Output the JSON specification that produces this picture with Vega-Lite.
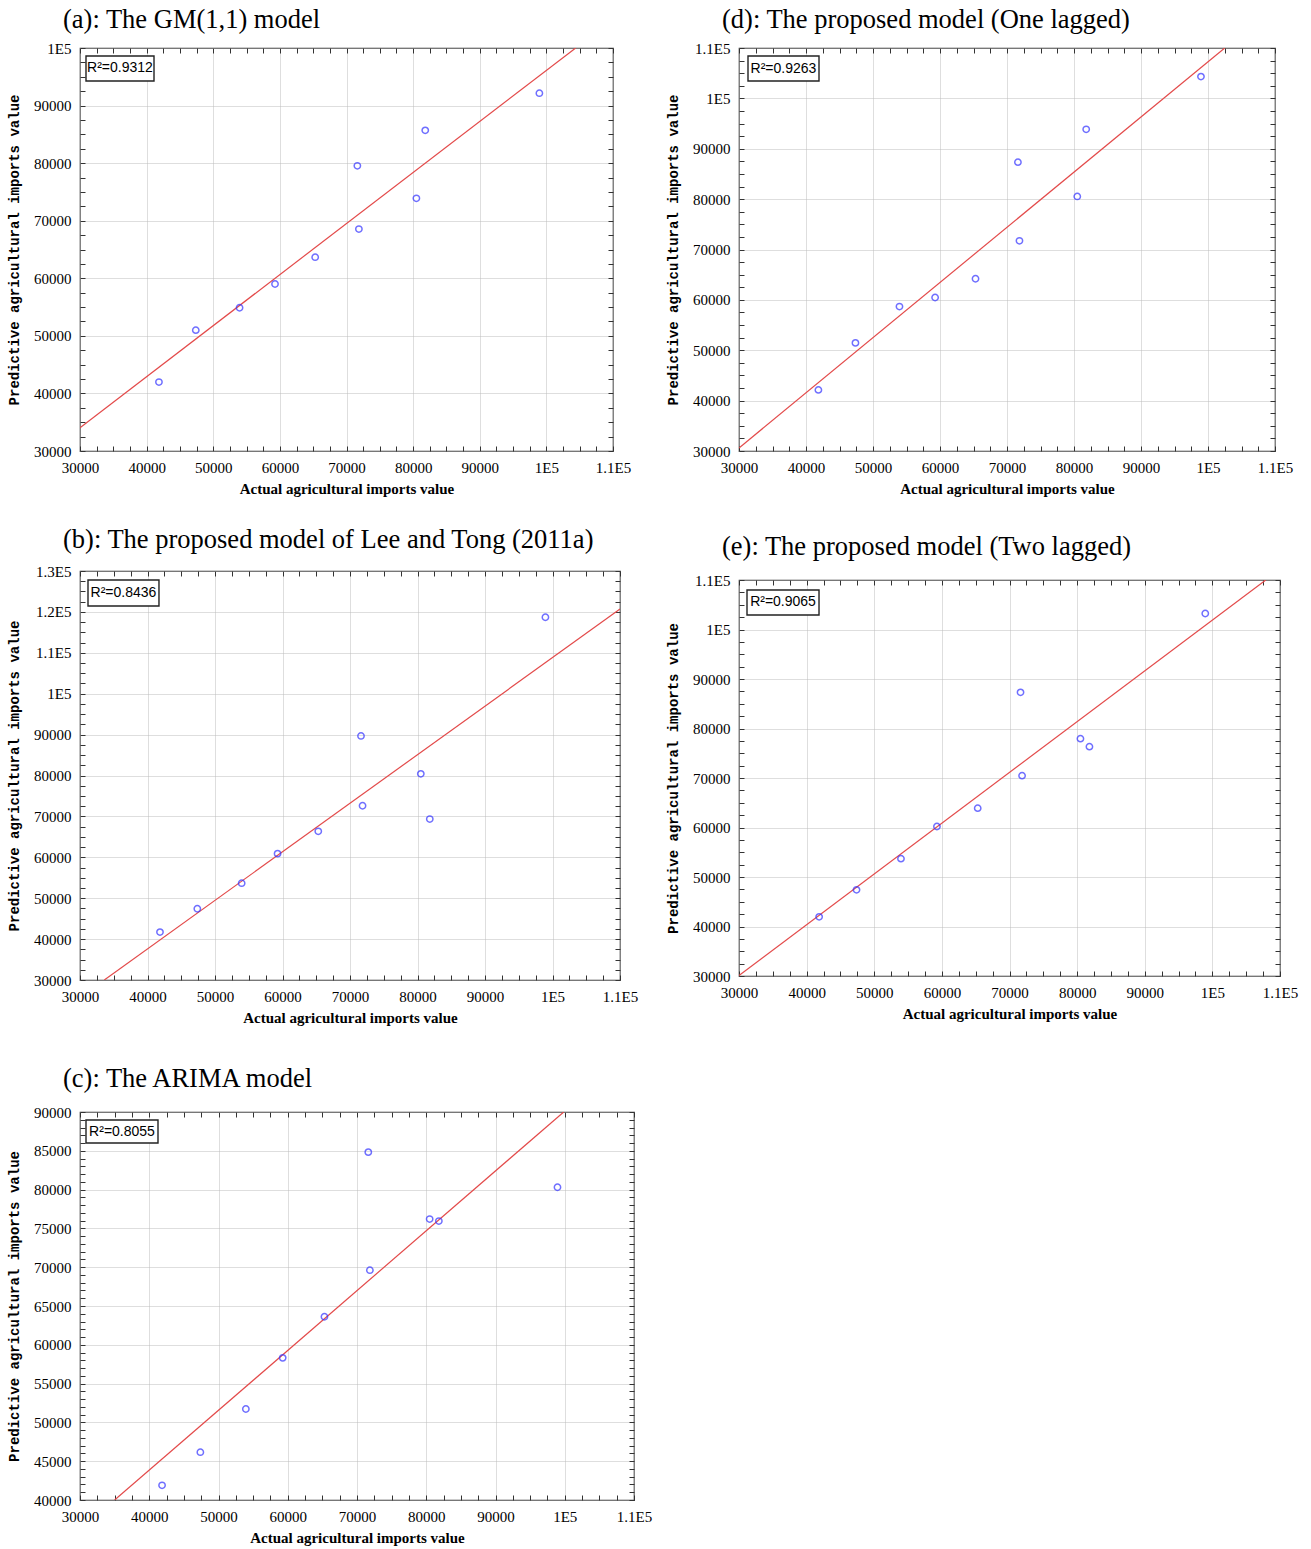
{
  "$schema": "https://vega.github.io/schema/vega-lite/v6.json",
  "background": "white",
  "padding": {"left": 6, "top": 5, "right": 5, "bottom": 5},
  "datasets": {
    "points": [
      {"panel": "a", "actual": 41850, "predicted": 41977},
      {"panel": "a", "actual": 47380, "predicted": 50988},
      {"panel": "a", "actual": 53950, "predicted": 54884},
      {"panel": "a", "actual": 59270, "predicted": 59012},
      {"panel": "a", "actual": 65300, "predicted": 63663},
      {"panel": "a", "actual": 71630, "predicted": 79535},
      {"panel": "a", "actual": 71860, "predicted": 68547},
      {"panel": "a", "actual": 80490, "predicted": 73895},
      {"panel": "a", "actual": 81820, "predicted": 85698},
      {"panel": "a", "actual": 98950, "predicted": 92151},
      {"panel": "d", "actual": 41850, "predicted": 42128},
      {"panel": "d", "actual": 47380, "predicted": 51463},
      {"panel": "d", "actual": 53950, "predicted": 58670},
      {"panel": "d", "actual": 59270, "predicted": 60465},
      {"panel": "d", "actual": 65300, "predicted": 64189},
      {"panel": "d", "actual": 71630, "predicted": 87340},
      {"panel": "d", "actual": 71860, "predicted": 71729},
      {"panel": "d", "actual": 80490, "predicted": 80532},
      {"panel": "d", "actual": 81820, "predicted": 93856},
      {"panel": "d", "actual": 98950, "predicted": 104322},
      {"panel": "b", "actual": 41850, "predicted": 41711},
      {"panel": "b", "actual": 47380, "predicted": 47416},
      {"panel": "b", "actual": 53950, "predicted": 53667},
      {"panel": "b", "actual": 59270, "predicted": 60896},
      {"panel": "b", "actual": 65300, "predicted": 66357},
      {"panel": "b", "actual": 71630, "predicted": 89674},
      {"panel": "b", "actual": 71860, "predicted": 72608},
      {"panel": "b", "actual": 80490, "predicted": 80407},
      {"panel": "b", "actual": 81820, "predicted": 69348},
      {"panel": "b", "actual": 98950, "predicted": 118696},
      {"panel": "e", "actual": 41850, "predicted": 41953},
      {"panel": "e", "actual": 47380, "predicted": 47407},
      {"panel": "e", "actual": 53950, "predicted": 53704},
      {"panel": "e", "actual": 59270, "predicted": 60202},
      {"panel": "e", "actual": 65300, "predicted": 63906},
      {"panel": "e", "actual": 71630, "predicted": 87306},
      {"panel": "e", "actual": 71860, "predicted": 70471},
      {"panel": "e", "actual": 80490, "predicted": 77946},
      {"panel": "e", "actual": 81820, "predicted": 76330},
      {"panel": "e", "actual": 98950, "predicted": 103232},
      {"panel": "c", "actual": 41850, "predicted": 41895},
      {"panel": "c", "actual": 47380, "predicted": 46163},
      {"panel": "c", "actual": 53950, "predicted": 51723},
      {"panel": "c", "actual": 59270, "predicted": 58316},
      {"panel": "c", "actual": 65300, "predicted": 63618},
      {"panel": "c", "actual": 71630, "predicted": 84828},
      {"panel": "c", "actual": 71860, "predicted": 69612},
      {"panel": "c", "actual": 80490, "predicted": 76206},
      {"panel": "c", "actual": 81820, "predicted": 75947},
      {"panel": "c", "actual": 98950, "predicted": 80301}
    ],
    "fit": [
      {"panel": "a", "actual": 30000, "predicted": 34050},
      {"panel": "a", "actual": 104400, "predicted": 100000},
      {"panel": "d", "actual": 30000, "predicted": 30600},
      {"panel": "d", "actual": 102500, "predicted": 110000},
      {"panel": "b", "actual": 33600, "predicted": 30000},
      {"panel": "b", "actual": 110000, "predicted": 120700},
      {"panel": "e", "actual": 30000, "predicted": 30100},
      {"panel": "e", "actual": 107900, "predicted": 110000},
      {"panel": "c", "actual": 35000, "predicted": 40000},
      {"panel": "c", "actual": 99850, "predicted": 90000}
    ],
    "r2": [
      {"panel": "a", "label": "R²=0.9312"},
      {"panel": "d", "label": "R²=0.9263"},
      {"panel": "b", "label": "R²=0.8436"},
      {"panel": "e", "label": "R²=0.9065"},
      {"panel": "c", "label": "R²=0.8055"}
    ]
  },
  "spacing": 12,
  "hconcat": [
    {
      "spacing": 38,
      "vconcat": [
        {
          "spacing": 28,
          "vconcat": [
            {
              "title": {"text": "(a): The GM(1,1) model", "offset": 8},
              "width": 533, "height": 403,
              "resolve": {"axis": {"x": "independent", "y": "independent"}},
              "layer": [
                {
                  "data": {"name": "fit"}, "transform": [{"filter": "datum.panel === 'a'"}],
                  "mark": {"type": "line", "color": "#e34a4a", "strokeWidth": 1.2, "clip": true},
                  "encoding": {
                    "x": {"field": "actual", "type": "quantitative", "scale": {"domain": [30000, 110000], "nice": false, "zero": false},
                      "axis": {"orient": "bottom", "values": [30000,32500,35000,37500,40000,42500,45000,47500,50000,52500,55000,57500,60000,62500,65000,67500,70000,72500,75000,77500,80000,82500,85000,87500,90000,92500,95000,97500,100000,102500,105000,107500,110000],
                        "labelExpr": "datum.value % 10000 !== 0 ? '' : (datum.value >= 100000 ? (datum.value / 100000) + 'E5' : '' + datum.value)",
                        "gridOpacity": {"condition": {"test": "datum.value % 10000 === 0", "value": 1}, "value": 0},
                        "tickSize": -5, "labelPadding": 14, "title": "Actual agricultural imports value", "titlePadding": 6}},
                    "y": {"field": "predicted", "type": "quantitative", "scale": {"domain": [30000, 100000], "nice": false, "zero": false},
                      "axis": {"orient": "left", "values": [30000,32500,35000,37500,40000,42500,45000,47500,50000,52500,55000,57500,60000,62500,65000,67500,70000,72500,75000,77500,80000,82500,85000,87500,90000,92500,95000,97500,100000],
                        "labelExpr": "datum.value % 10000 !== 0 ? '' : (datum.value >= 100000 ? (datum.value / 100000) + 'E5' : '' + datum.value)",
                        "gridOpacity": {"condition": {"test": "datum.value % 10000 === 0", "value": 1}, "value": 0},
                        "tickSize": -5, "labelPadding": 14, "title": "Predictive agricultural imports value", "titlePadding": 12}}
                  }
                },
                {
                  "data": {"name": "points"}, "transform": [{"filter": "datum.panel === 'a'"}],
                  "mark": {"type": "point", "shape": "circle", "filled": false, "color": "#3333ff", "size": 40, "strokeWidth": 1.5},
                  "encoding": {
                    "x": {"field": "actual", "type": "quantitative", "axis": {"orient": "top", "values": [30000,32500,35000,37500,40000,42500,45000,47500,50000,52500,55000,57500,60000,62500,65000,67500,70000,72500,75000,77500,80000,82500,85000,87500,90000,92500,95000,97500,100000,102500,105000,107500,110000], "labels": false, "grid": false, "tickSize": -5, "title": null}},
                    "y": {"field": "predicted", "type": "quantitative", "axis": {"orient": "right", "values": [30000,32500,35000,37500,40000,42500,45000,47500,50000,52500,55000,57500,60000,62500,65000,67500,70000,72500,75000,77500,80000,82500,85000,87500,90000,92500,95000,97500,100000], "labels": false, "grid": false, "tickSize": -5, "title": null}}
                  }
                },
                {
                  "data": {"name": "r2"}, "transform": [{"filter": "datum.panel === 'a'"}],
                  "mark": {"type": "rect", "fill": "white", "stroke": "#222", "strokeWidth": 1.4},
                  "encoding": {
                    "x": {"datum": 30900, "type": "quantitative", "axis": null}, "x2": {"datum": 41107},
                    "y": {"datum": 98610, "type": "quantitative", "axis": null}, "y2": {"datum": 94268}
                  }
                },
                {
                  "data": {"name": "r2"}, "transform": [{"filter": "datum.panel === 'a'"}],
                  "mark": {"type": "text", "font": "Liberation Sans", "fontSize": 14, "color": "black", "align": "center", "baseline": "middle"},
                  "encoding": {
                    "x": {"datum": 36000, "type": "quantitative", "axis": null},
                    "y": {"datum": 96440, "type": "quantitative", "axis": null},
                    "text": {"field": "label"}
                  }
                }
              ]
            },
            {
              "title": {"text": "(b): The proposed model of Lee and Tong (2011a)", "offset": 11},
              "width": 540, "height": 409,
              "resolve": {"axis": {"x": "independent", "y": "independent"}},
              "layer": [
                {
                  "data": {"name": "fit"}, "transform": [{"filter": "datum.panel === 'b'"}],
                  "mark": {"type": "line", "color": "#e34a4a", "strokeWidth": 1.2, "clip": true},
                  "encoding": {
                    "x": {"field": "actual", "type": "quantitative", "scale": {"domain": [30000, 110000], "nice": false, "zero": false},
                      "axis": {"orient": "bottom", "values": [30000,32500,35000,37500,40000,42500,45000,47500,50000,52500,55000,57500,60000,62500,65000,67500,70000,72500,75000,77500,80000,82500,85000,87500,90000,92500,95000,97500,100000,102500,105000,107500,110000],
                        "labelExpr": "datum.value % 10000 !== 0 ? '' : (datum.value >= 100000 ? (datum.value / 100000) + 'E5' : '' + datum.value)",
                        "gridOpacity": {"condition": {"test": "datum.value % 10000 === 0", "value": 1}, "value": 0},
                        "tickSize": -5, "labelPadding": 14, "title": "Actual agricultural imports value", "titlePadding": 6}},
                    "y": {"field": "predicted", "type": "quantitative", "scale": {"domain": [30000, 130000], "nice": false, "zero": false},
                      "axis": {"orient": "left", "values": [30000,32500,35000,37500,40000,42500,45000,47500,50000,52500,55000,57500,60000,62500,65000,67500,70000,72500,75000,77500,80000,82500,85000,87500,90000,92500,95000,97500,100000,102500,105000,107500,110000,112500,115000,117500,120000,122500,125000,127500,130000],
                        "labelExpr": "datum.value % 10000 !== 0 ? '' : (datum.value >= 100000 ? (datum.value / 100000) + 'E5' : '' + datum.value)",
                        "gridOpacity": {"condition": {"test": "datum.value % 10000 === 0", "value": 1}, "value": 0},
                        "tickSize": -5, "labelPadding": 14, "title": "Predictive agricultural imports value", "titlePadding": 12}}
                  }
                },
                {
                  "data": {"name": "points"}, "transform": [{"filter": "datum.panel === 'b'"}],
                  "mark": {"type": "point", "shape": "circle", "filled": false, "color": "#3333ff", "size": 40, "strokeWidth": 1.5},
                  "encoding": {
                    "x": {"field": "actual", "type": "quantitative", "axis": {"orient": "top", "values": [30000,32500,35000,37500,40000,42500,45000,47500,50000,52500,55000,57500,60000,62500,65000,67500,70000,72500,75000,77500,80000,82500,85000,87500,90000,92500,95000,97500,100000,102500,105000,107500,110000], "labels": false, "grid": false, "tickSize": -5, "title": null}},
                    "y": {"field": "predicted", "type": "quantitative", "axis": {"orient": "right", "values": [30000,32500,35000,37500,40000,42500,45000,47500,50000,52500,55000,57500,60000,62500,65000,67500,70000,72500,75000,77500,80000,82500,85000,87500,90000,92500,95000,97500,100000,102500,105000,107500,110000,112500,115000,117500,120000,122500,125000,127500,130000], "labels": false, "grid": false, "tickSize": -5, "title": null}}
                  }
                },
                {
                  "data": {"name": "r2"}, "transform": [{"filter": "datum.panel === 'b'"}],
                  "mark": {"type": "rect", "fill": "white", "stroke": "#222", "strokeWidth": 1.4},
                  "encoding": {
                    "x": {"datum": 31185, "type": "quantitative", "axis": null}, "x2": {"datum": 41700},
                    "y": {"datum": 127800, "type": "quantitative", "axis": null}, "y2": {"datum": 121443}
                  }
                },
                {
                  "data": {"name": "r2"}, "transform": [{"filter": "datum.panel === 'b'"}],
                  "mark": {"type": "text", "font": "Liberation Sans", "fontSize": 14, "color": "black", "align": "center", "baseline": "middle"},
                  "encoding": {
                    "x": {"datum": 36440, "type": "quantitative", "axis": null},
                    "y": {"datum": 124620, "type": "quantitative", "axis": null},
                    "text": {"field": "label"}
                  }
                }
              ]
            }
          ]
        },
        {
          "title": {"text": "(c): The ARIMA model", "offset": 13},
          "width": 554, "height": 388,
          "resolve": {"axis": {"x": "independent", "y": "independent"}},
          "layer": [
            {
              "data": {"name": "fit"}, "transform": [{"filter": "datum.panel === 'c'"}],
              "mark": {"type": "line", "color": "#e34a4a", "strokeWidth": 1.2, "clip": true},
              "encoding": {
                "x": {"field": "actual", "type": "quantitative", "scale": {"domain": [30000, 110000], "nice": false, "zero": false},
                  "axis": {"orient": "bottom", "values": [30000,32500,35000,37500,40000,42500,45000,47500,50000,52500,55000,57500,60000,62500,65000,67500,70000,72500,75000,77500,80000,82500,85000,87500,90000,92500,95000,97500,100000,102500,105000,107500,110000],
                    "labelExpr": "datum.value % 10000 !== 0 ? '' : (datum.value >= 100000 ? (datum.value / 100000) + 'E5' : '' + datum.value)",
                    "gridOpacity": {"condition": {"test": "datum.value % 10000 === 0", "value": 1}, "value": 0},
                    "tickSize": -5, "labelPadding": 14, "title": "Actual agricultural imports value", "titlePadding": 6}},
                "y": {"field": "predicted", "type": "quantitative", "scale": {"domain": [40000, 90000], "nice": false, "zero": false},
                  "axis": {"orient": "left", "values": [40000,41000,42000,43000,44000,45000,46000,47000,48000,49000,50000,51000,52000,53000,54000,55000,56000,57000,58000,59000,60000,61000,62000,63000,64000,65000,66000,67000,68000,69000,70000,71000,72000,73000,74000,75000,76000,77000,78000,79000,80000,81000,82000,83000,84000,85000,86000,87000,88000,89000,90000],
                    "labelExpr": "datum.value % 5000 !== 0 ? '' : '' + datum.value",
                    "gridOpacity": {"condition": {"test": "datum.value % 5000 === 0", "value": 1}, "value": 0},
                    "tickSize": -5, "labelPadding": 14, "title": "Predictive agricultural imports value", "titlePadding": 12}}
              }
            },
            {
              "data": {"name": "points"}, "transform": [{"filter": "datum.panel === 'c'"}],
              "mark": {"type": "point", "shape": "circle", "filled": false, "color": "#3333ff", "size": 40, "strokeWidth": 1.5},
              "encoding": {
                "x": {"field": "actual", "type": "quantitative", "axis": {"orient": "top", "values": [30000,32500,35000,37500,40000,42500,45000,47500,50000,52500,55000,57500,60000,62500,65000,67500,70000,72500,75000,77500,80000,82500,85000,87500,90000,92500,95000,97500,100000,102500,105000,107500,110000], "labels": false, "grid": false, "tickSize": -5, "title": null}},
                "y": {"field": "predicted", "type": "quantitative", "axis": {"orient": "right", "values": [40000,41000,42000,43000,44000,45000,46000,47000,48000,49000,50000,51000,52000,53000,54000,55000,56000,57000,58000,59000,60000,61000,62000,63000,64000,65000,66000,67000,68000,69000,70000,71000,72000,73000,74000,75000,76000,77000,78000,79000,80000,81000,82000,83000,84000,85000,86000,87000,88000,89000,90000], "labels": false, "grid": false, "tickSize": -5, "title": null}}
              }
            },
            {
              "data": {"name": "r2"}, "transform": [{"filter": "datum.panel === 'c'"}],
              "mark": {"type": "rect", "fill": "white", "stroke": "#222", "strokeWidth": 1.4},
              "encoding": {
                "x": {"datum": 30866, "type": "quantitative", "axis": null}, "x2": {"datum": 41263},
                "y": {"datum": 88969, "type": "quantitative", "axis": null}, "y2": {"datum": 86004}
              }
            },
            {
              "data": {"name": "r2"}, "transform": [{"filter": "datum.panel === 'c'"}],
              "mark": {"type": "text", "font": "Liberation Sans", "fontSize": 14, "color": "black", "align": "center", "baseline": "middle"},
              "encoding": {
                "x": {"datum": 36065, "type": "quantitative", "axis": null},
                "y": {"datum": 87487, "type": "quantitative", "axis": null},
                "text": {"field": "label"}
              }
            }
          ]
        }
      ]
    },
    {
      "spacing": 35,
      "vconcat": [
        {
          "title": {"text": "(d): The proposed model (One lagged)", "offset": 8},
          "width": 536, "height": 403,
          "resolve": {"axis": {"x": "independent", "y": "independent"}},
          "layer": [
            {
              "data": {"name": "fit"}, "transform": [{"filter": "datum.panel === 'd'"}],
              "mark": {"type": "line", "color": "#e34a4a", "strokeWidth": 1.2, "clip": true},
              "encoding": {
                "x": {"field": "actual", "type": "quantitative", "scale": {"domain": [30000, 110000], "nice": false, "zero": false},
                  "axis": {"orient": "bottom", "values": [30000,32500,35000,37500,40000,42500,45000,47500,50000,52500,55000,57500,60000,62500,65000,67500,70000,72500,75000,77500,80000,82500,85000,87500,90000,92500,95000,97500,100000,102500,105000,107500,110000],
                    "labelExpr": "datum.value % 10000 !== 0 ? '' : (datum.value >= 100000 ? (datum.value / 100000) + 'E5' : '' + datum.value)",
                    "gridOpacity": {"condition": {"test": "datum.value % 10000 === 0", "value": 1}, "value": 0},
                    "tickSize": -5, "labelPadding": 14, "title": "Actual agricultural imports value", "titlePadding": 6}},
                "y": {"field": "predicted", "type": "quantitative", "scale": {"domain": [30000, 110000], "nice": false, "zero": false},
                  "axis": {"orient": "left", "values": [30000,32500,35000,37500,40000,42500,45000,47500,50000,52500,55000,57500,60000,62500,65000,67500,70000,72500,75000,77500,80000,82500,85000,87500,90000,92500,95000,97500,100000,102500,105000,107500,110000],
                    "labelExpr": "datum.value % 10000 !== 0 ? '' : (datum.value >= 100000 ? (datum.value / 100000) + 'E5' : '' + datum.value)",
                    "gridOpacity": {"condition": {"test": "datum.value % 10000 === 0", "value": 1}, "value": 0},
                    "tickSize": -5, "labelPadding": 14, "title": "Predictive agricultural imports value", "titlePadding": 12}}
              }
            },
            {
              "data": {"name": "points"}, "transform": [{"filter": "datum.panel === 'd'"}],
              "mark": {"type": "point", "shape": "circle", "filled": false, "color": "#3333ff", "size": 40, "strokeWidth": 1.5},
              "encoding": {
                "x": {"field": "actual", "type": "quantitative", "axis": {"orient": "top", "values": [30000,32500,35000,37500,40000,42500,45000,47500,50000,52500,55000,57500,60000,62500,65000,67500,70000,72500,75000,77500,80000,82500,85000,87500,90000,92500,95000,97500,100000,102500,105000,107500,110000], "labels": false, "grid": false, "tickSize": -5, "title": null}},
                "y": {"field": "predicted", "type": "quantitative", "axis": {"orient": "right", "values": [30000,32500,35000,37500,40000,42500,45000,47500,50000,52500,55000,57500,60000,62500,65000,67500,70000,72500,75000,77500,80000,82500,85000,87500,90000,92500,95000,97500,100000,102500,105000,107500,110000], "labels": false, "grid": false, "tickSize": -5, "title": null}}
              }
            },
            {
              "data": {"name": "r2"}, "transform": [{"filter": "datum.panel === 'd'"}],
              "mark": {"type": "rect", "fill": "white", "stroke": "#222", "strokeWidth": 1.4},
              "encoding": {
                "x": {"datum": 31343, "type": "quantitative", "axis": null}, "x2": {"datum": 41940},
                "y": {"datum": 108412, "type": "quantitative", "axis": null}, "y2": {"datum": 103450}
              }
            },
            {
              "data": {"name": "r2"}, "transform": [{"filter": "datum.panel === 'd'"}],
              "mark": {"type": "text", "font": "Liberation Sans", "fontSize": 14, "color": "black", "align": "center", "baseline": "middle"},
              "encoding": {
                "x": {"datum": 36640, "type": "quantitative", "axis": null},
                "y": {"datum": 105930, "type": "quantitative", "axis": null},
                "text": {"field": "label"}
              }
            }
          ]
        },
        {
          "title": {"text": "(e): The proposed model (Two lagged)", "offset": 13},
          "width": 541, "height": 396,
          "resolve": {"axis": {"x": "independent", "y": "independent"}},
          "layer": [
            {
              "data": {"name": "fit"}, "transform": [{"filter": "datum.panel === 'e'"}],
              "mark": {"type": "line", "color": "#e34a4a", "strokeWidth": 1.2, "clip": true},
              "encoding": {
                "x": {"field": "actual", "type": "quantitative", "scale": {"domain": [30000, 110000], "nice": false, "zero": false},
                  "axis": {"orient": "bottom", "values": [30000,32500,35000,37500,40000,42500,45000,47500,50000,52500,55000,57500,60000,62500,65000,67500,70000,72500,75000,77500,80000,82500,85000,87500,90000,92500,95000,97500,100000,102500,105000,107500,110000],
                    "labelExpr": "datum.value % 10000 !== 0 ? '' : (datum.value >= 100000 ? (datum.value / 100000) + 'E5' : '' + datum.value)",
                    "gridOpacity": {"condition": {"test": "datum.value % 10000 === 0", "value": 1}, "value": 0},
                    "tickSize": -5, "labelPadding": 14, "title": "Actual agricultural imports value", "titlePadding": 6}},
                "y": {"field": "predicted", "type": "quantitative", "scale": {"domain": [30000, 110000], "nice": false, "zero": false},
                  "axis": {"orient": "left", "values": [30000,32500,35000,37500,40000,42500,45000,47500,50000,52500,55000,57500,60000,62500,65000,67500,70000,72500,75000,77500,80000,82500,85000,87500,90000,92500,95000,97500,100000,102500,105000,107500,110000],
                    "labelExpr": "datum.value % 10000 !== 0 ? '' : (datum.value >= 100000 ? (datum.value / 100000) + 'E5' : '' + datum.value)",
                    "gridOpacity": {"condition": {"test": "datum.value % 10000 === 0", "value": 1}, "value": 0},
                    "tickSize": -5, "labelPadding": 14, "title": "Predictive agricultural imports value", "titlePadding": 12}}
              }
            },
            {
              "data": {"name": "points"}, "transform": [{"filter": "datum.panel === 'e'"}],
              "mark": {"type": "point", "shape": "circle", "filled": false, "color": "#3333ff", "size": 40, "strokeWidth": 1.5},
              "encoding": {
                "x": {"field": "actual", "type": "quantitative", "axis": {"orient": "top", "values": [30000,32500,35000,37500,40000,42500,45000,47500,50000,52500,55000,57500,60000,62500,65000,67500,70000,72500,75000,77500,80000,82500,85000,87500,90000,92500,95000,97500,100000,102500,105000,107500,110000], "labels": false, "grid": false, "tickSize": -5, "title": null}},
                "y": {"field": "predicted", "type": "quantitative", "axis": {"orient": "right", "values": [30000,32500,35000,37500,40000,42500,45000,47500,50000,52500,55000,57500,60000,62500,65000,67500,70000,72500,75000,77500,80000,82500,85000,87500,90000,92500,95000,97500,100000,102500,105000,107500,110000], "labels": false, "grid": false, "tickSize": -5, "title": null}}
              }
            },
            {
              "data": {"name": "r2"}, "transform": [{"filter": "datum.panel === 'e'"}],
              "mark": {"type": "rect", "fill": "white", "stroke": "#222", "strokeWidth": 1.4},
              "encoding": {
                "x": {"datum": 31183, "type": "quantitative", "axis": null}, "x2": {"datum": 41832},
                "y": {"datum": 107980, "type": "quantitative", "axis": null}, "y2": {"datum": 102930}
              }
            },
            {
              "data": {"name": "r2"}, "transform": [{"filter": "datum.panel === 'e'"}],
              "mark": {"type": "text", "font": "Liberation Sans", "fontSize": 14, "color": "black", "align": "center", "baseline": "middle"},
              "encoding": {
                "x": {"datum": 36510, "type": "quantitative", "axis": null},
                "y": {"datum": 105455, "type": "quantitative", "axis": null},
                "text": {"field": "label"}
              }
            }
          ]
        }
      ]
    }
  ],
  "config": {
    "view": {"stroke": "#333", "strokeWidth": 1.2},
    "axis": {
      "labelFont": "Liberation Serif", "labelFontSize": 15, "labelColor": "black",
      "titleFont": "Liberation Serif", "titleColor": "black",
      "gridColor": "#bdbdbd", "gridDash": [1, 1], "gridWidth": 1,
      "tickColor": "#333", "domain": false, "labelOverlap": false, "labelFlush": false
    },
    "axisY": {"titleFont": "Liberation Mono", "titleFontWeight": "bold", "titleFontSize": 14},
    "axisX": {"titleFontWeight": "bold", "titleFontSize": 15},
    "title": {"font": "Liberation Serif", "fontSize": 26.5, "fontWeight": "normal", "color": "black", "anchor": "start", "frame": "group", "dx": -17}
  }
}
